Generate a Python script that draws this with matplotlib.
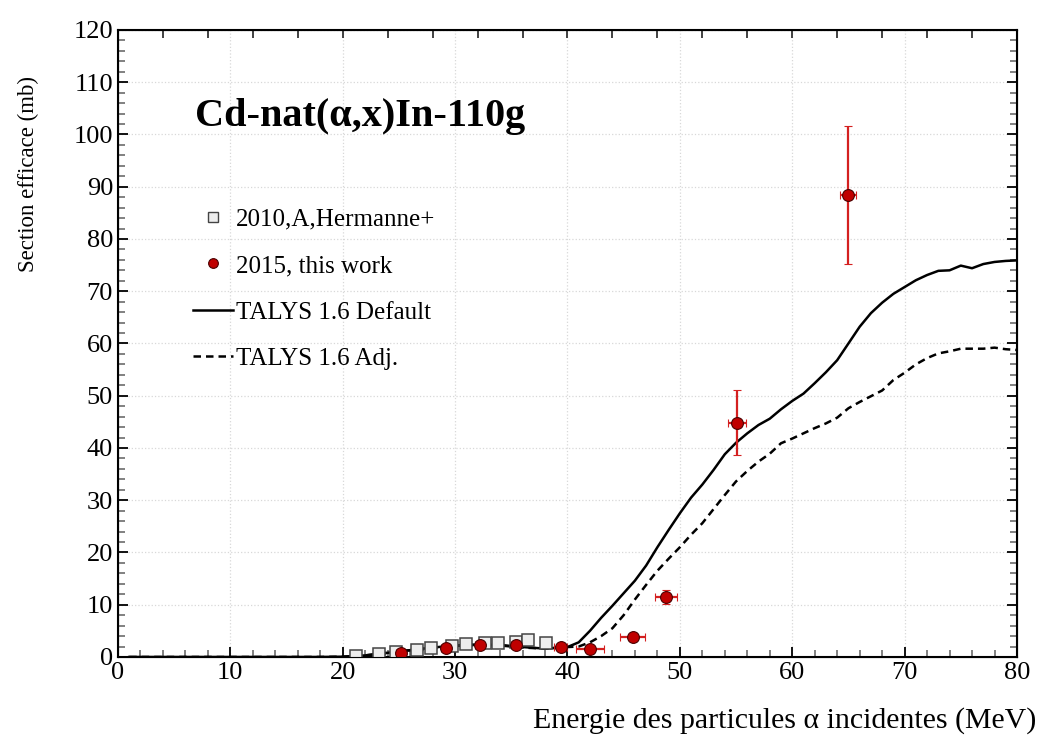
import matplotlib
matplotlib.use("Agg")
import matplotlib.pyplot as plt
from matplotlib.ticker import MultipleLocator
from matplotlib.lines import Line2D
import numpy as np

plt.rcParams['font.family'] = ['Liberation Serif', 'DejaVu Serif']

# 2010, A, Hermanne+
herm_E = [21.15, 23.2, 24.7, 26.6, 27.9, 29.7, 31.0, 32.65, 33.8, 35.4, 36.5, 38.05]
herm_xs = [0.25, 0.5, 0.95, 1.34, 1.8, 2.1, 2.5, 2.6, 2.7, 2.8, 3.25, 2.6]
herm_Eerr = [0.6, 0.6, 0.6, 0.5, 0.5, 0.5, 0.5, 0.5, 0.4, 0.4, 0.4, 0.4]
herm_err = [0.2, 0.2, 0.2, 0.2, 0.3, 0.3, 0.3, 0.3, 0.3, 0.3, 0.4, 0.3]

# 2015, this work
work_E = [25.15, 29.15, 32.2, 35.4, 39.4, 42.0, 45.8, 48.75, 55.07, 64.95]
work_xs = [0.7, 1.65, 2.3, 2.2, 1.85, 1.6, 3.9, 11.5, 44.8, 88.4]
work_Eerr = [0.4, 0.4, 0.4, 0.4, 0.6, 1.25, 1.1, 1.0, 0.8, 0.7]
work_err = [0.2, 0.2, 0.2, 0.2, 0.2, 0.2, 0.3, 1.4, 6.2, 13.2]

# TALYS 1.6
talys_E = [1, 18, 20, 22, 24, 26, 28, 30, 32, 34, 36, 38, 40, 41, 42, 43, 44, 45, 46, 47,
           48, 49, 50, 51, 52, 53, 54, 55, 56, 57, 58, 59, 60, 61, 62, 63, 64, 65, 66, 67,
           68, 69, 70, 71, 72, 73, 74, 75, 76, 77, 78, 79, 80]
talys_default = [0, 0, 0.05, 0.3, 0.8, 1.3, 1.8, 2.2, 2.4, 2.3, 1.9, 1.6, 1.9, 2.8, 5.0, 7.5,
                 9.8, 12.2, 14.6, 17.5, 21.0, 24.3, 27.5, 30.5, 33.0, 35.8, 38.8, 41.0, 42.8,
                 44.4, 45.6, 47.4, 49.0, 50.4, 52.4, 54.5, 56.8, 60.0, 63.2, 65.8, 67.8, 69.5,
                 70.8, 72.1, 73.1, 73.9, 74.0, 74.9, 74.4, 75.2, 75.6, 75.8, 75.9]
talys_adj = [0, 0, 0.05, 0.3, 0.8, 1.3, 1.8, 2.1, 2.3, 2.2, 1.8, 1.6, 1.9, 2.0, 2.8, 4.0,
             5.5, 8.0, 11.0, 13.8, 16.5, 18.8, 21.0, 23.4, 25.6, 28.3, 31.0, 33.6, 35.6,
             37.4, 38.9, 40.9, 41.8, 42.8, 43.8, 44.7, 45.8, 47.6, 48.8, 49.9, 51.0, 53.0,
             54.4, 56.0, 57.2, 58.1, 58.5, 59.0, 59.0, 59.0, 59.2, 58.9, 58.75]

fig = plt.figure(figsize=(10.42, 7.40), dpi=100)
ax = fig.add_axes([0.1132, 0.1122, 0.8628, 0.8473])

ax.plot(talys_E, talys_default, color='black', lw=1.8, zorder=3)
ax.plot(talys_E, talys_adj, color='black', lw=1.8, ls=(0, (3, 2)), zorder=3)

ax.errorbar(herm_E, herm_xs, xerr=herm_Eerr, yerr=herm_err, fmt='s', ms=9,
            mfc='#ededed', mec='#444444', mew=1.1, ecolor='black', elinewidth=1.0,
            capsize=0, zorder=4)
ax.errorbar(work_E, work_xs, xerr=work_Eerr, yerr=work_err, fmt='o', ms=8.5,
            mfc='#c00000', mec='#4a0000', mew=0.8, ecolor='#d42020', elinewidth=1.6,
            capsize=3, capthick=1.6, zorder=5)

ax.set_xlim(0, 80)
ax.set_ylim(0, 120)
ax.xaxis.set_major_locator(MultipleLocator(10))
ax.xaxis.set_minor_locator(MultipleLocator(2))
ax.yaxis.set_major_locator(MultipleLocator(10))
ax.yaxis.set_minor_locator(MultipleLocator(2))
ax.tick_params(which='both', direction='in', top=False, right=True, labelsize=19)
ax.tick_params(which='major', length=7, width=1.3, color='black')
ax.tick_params(which='minor', length=5, width=1.3, color='#777777')
ax.grid(True, which='major', color='#d8d8d8', ls=':', lw=0.9)
for s in ax.spines.values():
    s.set_linewidth(1.5)

ax2 = ax.twiny()
ax2.set_xlim(0, 80)
ax2.set_xticks(np.arange(4, 80, 4))
ax2.tick_params(direction='in', length=6, width=1.3, labeltop=False, top=True, color='#333333')

ax.set_ylabel('Section efficace (mb)', fontsize=16.5)
ax.yaxis.set_label_coords(-0.088, 0.77)
ax.set_xlabel('Energie des particules α incidentes (MeV)', fontsize=21.5)
ax.xaxis.set_label_coords(1.022, -0.08)
ax.xaxis.label.set_ha('right')

ax.text(0.086, 0.862, 'Cd-nat(α,x)In-110g', transform=ax.transAxes, fontsize=29,
        fontweight='bold', va='center', ha='left')

handles = [
    Line2D([], [], ls='none', marker='s', ms=7, mfc='#ededed', mec='#444444', mew=1.0),
    Line2D([], [], ls='none', marker='o', ms=7, mfc='#c00000', mec='#4a0000', mew=0.8),
    Line2D([], [], color='black', lw=1.8),
    Line2D([], [], color='black', lw=1.8, ls=(0, (3, 2))),
]
labels = ['2010,A,Hermanne+', '2015, this work', 'TALYS 1.6 Default', 'TALYS 1.6 Adj.']
leg = ax.legend(handles, labels, loc='upper left', bbox_to_anchor=(0.084, 0.716),
                frameon=False, fontsize=18, labelspacing=0.96, handlelength=1.6,
                handletextpad=0.1, borderaxespad=0, borderpad=0)

fig.savefig('out.png', dpi=100)
